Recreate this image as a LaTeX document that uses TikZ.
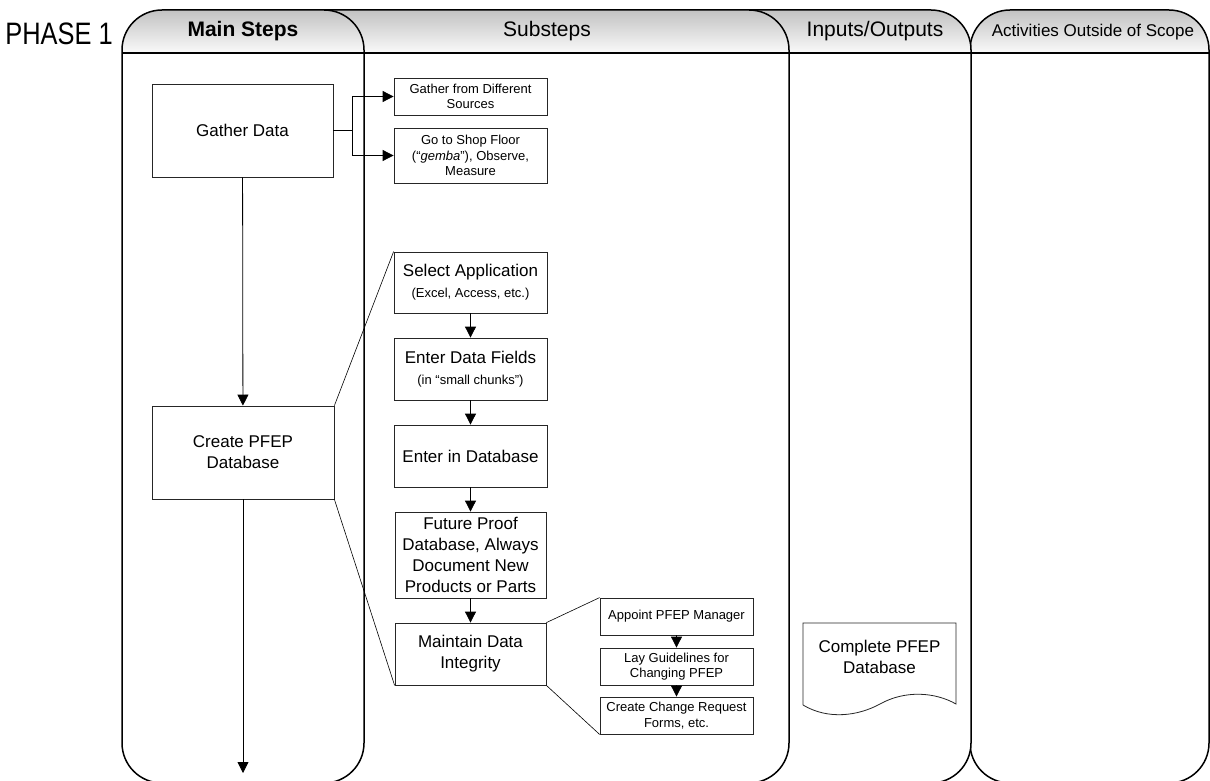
\documentclass[tikz,border=0pt]{standalone}
\usepackage{fontspec}
\usepackage{graphicx}
\setmainfont{Liberation Sans}
\usetikzlibrary{arrows.meta}
\newcommand\subfont{\fontsize{13}{15.5}\selectfont}
\tikzset{
  lane/.style={draw, line width=1.5pt, rounded corners=40pt},
  hdr/.style={font=\fontsize{21}{24}\selectfont},
  stepbox/.style={draw=black!85, line width=0.8pt, align=center, inner sep=1pt,
    font=\fontsize{17}{21}\selectfont},
  subbox/.style={draw=black!85, line width=0.8pt, align=center, inner sep=1pt,
    minimum width=153pt, minimum height=37pt, font=\subfont},
  arr/.style={-{Triangle[length=11pt,width=11pt]}, line width=0.8pt},
  zoomline/.style={line width=0.6pt},
}
\begin{document}
\begin{tikzpicture}[x=1pt,y=-1pt]
  \useasboundingbox (0,0) rectangle (1210,781);
  % swim lanes, back to front
  \foreach \xa/\xb in {970/1209, 680/971, 280/789, 122/364} {
    \begin{scope}
      \clip[rounded corners=40pt] ({(\xa+\xb)/2},783) -- (\xa,783) -- (\xa,10) -- (\xb,10) -- (\xb,783) -- cycle;
      \fill[white] (\xa,0) rectangle (\xb,790);
      \shade[top color=black!24, bottom color=black!2] (\xa,10) rectangle (\xb,53);
    \end{scope}
    \draw[lane] ({(\xa+\xb)/2},783) -- (\xa,783) -- (\xa,10) -- (\xb,10) -- (\xb,783) -- cycle;
    \draw[line width=1.5pt] (\xa,53) -- (\xb,53);
  }
  \node (phase) at (59,34) {\fontsize{31}{34}\selectfont\scalebox{0.82}[1]{PHASE 1}};
  \node[hdr, font=\fontsize{21}{24}\selectfont\bfseries] (hmain) at (243,31) {Main Steps};
  \node[hdr] (hsub) at (547,31) {Substeps};
  \node[hdr] (hio) at (875,31) {Inputs/Outputs};
  \node[hdr, font=\fontsize{17}{20}\selectfont] (hout) at (1093,32) {Activities Outside of Scope};

  % main steps
  \node[stepbox, minimum width=181pt, minimum height=93pt] (gather) at (242.5,130.5) {Gather Data};
  \node[stepbox, minimum width=182pt, minimum height=93pt] (create) at (243,452.5) {Create PFEP\\Database};
  \coordinate (end) at (243,773);
  \draw[arr] (gather) -- (create);
  \draw[arr] (create) -- (end);

  % substeps of gather data
  \node[subbox] (sources) at (470.5,96.5) {Gather from Different\\Sources};
  \node[subbox, minimum height=55pt] (shop) at (470.5,155.5) {Go to Shop Floor\\(“\textit{gemba}”), Observe,\\Measure};
  \draw[arr] (gather.east) -- ++(19,0) |- (sources.west);
  \draw[arr] (gather.east) -- ++(19,0) |- (shop.west);

  % substeps of create database
  \node[stepbox, minimum width=153pt, minimum height=61pt] (select) at (470.5,282.5) {Select Application\\{\subfont (Excel, Access, etc.)}};
  \node[stepbox, minimum width=153pt, minimum height=62pt] (fields) at (470.5,369) {Enter Data Fields\\{\subfont (in “small chunks”)}};
  \node[stepbox, minimum width=153pt, minimum height=62pt] (enter) at (470.5,456) {Enter in Database};
  \node[stepbox, minimum width=151pt, minimum height=86pt] (future) at (470.5,555) {Future Proof\\Database, Always\\Document New\\Products or Parts};
  \node[stepbox, minimum width=151pt, minimum height=62pt] (maintain) at (470.5,654) {Maintain Data\\Integrity};
  \draw[arr] (select) -- (fields);
  \draw[arr] (fields) -- (enter);
  \draw[arr] (enter) -- (future);
  \draw[arr] (future) -- (maintain);
  \draw[zoomline] (create.north east) -- (select.north west);
  \draw[zoomline] (create.south east) -- (maintain.south west);

  % substeps of maintain
  \node[subbox] (appoint) at (676.5,616.5) {Appoint PFEP Manager};
  \node[subbox] (guide) at (676.5,666.5) {Lay Guidelines for\\Changing PFEP};
  \node[subbox] (forms) at (676.5,715.5) {Create Change Request\\Forms, etc.};
  \draw[arr] (appoint) -- (guide);
  \draw[arr] (guide) -- (forms);
  \draw[zoomline] (maintain.north east) -- (appoint.north west);
  \draw[zoomline] (maintain.south east) -- (forms.south west);

  % output document
  \draw[draw=black!85, line width=0.8pt] (803,705) -- (803,623) -- (956,623) -- (956,704)
    .. controls (935,692) and (905,690) .. (880,704)
    .. controls (858,716) and (828,720) .. (803,705);
  \node[font=\fontsize{17}{20.5}\selectfont, align=center] (output) at (879.5,657) {Complete PFEP\\Database};
\end{tikzpicture}
\end{document}
